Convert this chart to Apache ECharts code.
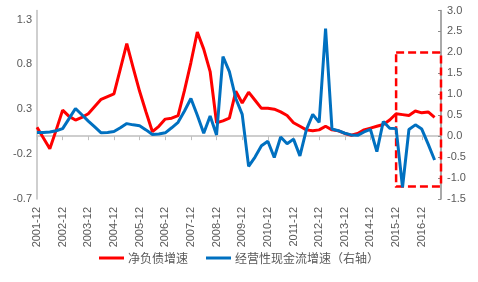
<!DOCTYPE html>
<html>
<head>
<meta charset="utf-8">
<script src="https://cdn.jsdelivr.net/npm/echarts@6/dist/echarts.min.js"></script>
<style>html,body{margin:0;padding:0;background:#fff;}#c{width:478px;height:282px;}</style>
</head>
<body>
<div id="c"></div>
<script>
var categories = ['2001-12',
'2002-03','2002-06','2002-09','2002-12','2003-03','2003-06','2003-09','2003-12',
'2004-03','2004-06','2004-09','2004-12','2005-03','2005-06','2005-09','2005-12',
'2006-03','2006-06','2006-09','2006-12','2007-03','2007-06','2007-09','2007-12',
'2008-03','2008-06','2008-09','2008-12','2009-03','2009-06','2009-09','2009-12',
'2010-03','2010-06','2010-09','2010-12','2011-03','2011-06','2011-09','2011-12',
'2012-03','2012-06','2012-09','2012-12','2013-03','2013-06','2013-09','2013-12',
'2014-03','2014-06','2014-09','2014-12','2015-03','2015-06','2015-09','2015-12',
'2016-03','2016-06','2016-09','2016-12','2017-03','2017-06','2017-09'];

var netDebtGrowth = [0.10,-0.02,-0.14,0.07,0.29,0.22,0.18,0.21,0.25,0.33,0.41,0.44,0.47,
0.75,1.03,0.76,0.50,0.27,0.05,0.11,0.19,0.20,0.23,0.51,0.82,1.16,
0.97,0.72,0.15,0.17,0.20,0.50,0.37,0.49,0.40,0.31,0.31,0.30,0.27,
0.23,0.15,0.11,0.07,0.06,0.07,0.11,0.07,0.06,0.03,0.01,0.03,0.07,
0.09,0.11,0.13,0.18,0.25,0.24,0.23,0.28,0.26,0.27,0.21,null];

var opCashGrowth = [0.09,0.09,0.10,0.13,0.18,0.42,0.66,0.51,0.36,0.22,0.08,0.09,0.11,
0.20,0.30,0.27,0.25,0.15,0.04,0.05,0.08,0.20,0.33,0.60,0.90,0.50,
0.07,0.48,0.03,1.90,1.54,0.90,0.52,-0.72,-0.50,-0.23,-0.12,-0.51,-0.02,
-0.18,-0.07,-0.47,0.15,0.52,0.33,2.57,0.17,0.13,0.07,0.03,0.02,0.10,
0.16,-0.37,0.35,0.19,0.18,-1.22,0.16,0.27,0.17,-0.19,-0.57,null];

var leftTickLabels = ['-0.7','-0.2','0.3','0.8','1.3'];
var seriesNames = ['净负债增速','经营性现金流增速（右轴）'];
var boxRange = {fromCat:'2015-12', toCat:'2017-09', top:2.0, bottom:-1.2};

var chart = echarts.init(document.getElementById('c'), null, {renderer:'canvas'});
var lab = {color:'#595959', fontSize:11, fontFamily:'Liberation Sans, Arial, sans-serif'};
chart.setOption({
  animation:false,
  backgroundColor:'#ffffff',
  grid:{left:37, right:37, top:10.5, bottom:83, containLabel:false},
  legend:{
    bottom:13, left:'center', itemWidth:25, itemHeight:3, itemGap:18,
    icon:'rect',
    textStyle:{color:'#595959', fontSize:12, fontFamily:'Noto Sans CJK SC, sans-serif', padding:[0,0,0,-1]},
    data:seriesNames
  },
  xAxis:[{
    type:'category', data:categories, boundaryGap:false, position:'bottom',
    axisLine:{show:true, onZero:true, lineStyle:{color:'#bfbfbf', width:1.5}},
    axisTick:{show:true, interval:3, length:4, lineStyle:{color:'#bfbfbf'}},
    axisLabel:{show:false}, splitLine:{show:false}
  },{
    type:'category', data:categories, boundaryGap:false, position:'bottom',
    axisLine:{show:false, onZero:false}, axisTick:{show:false},
    axisLabel:Object.assign({show:true, interval:3, rotate:90, margin:8}, lab),
    splitLine:{show:false}
  }],
  yAxis:[{
    type:'value', min:-0.7, max:1.4, interval:0.1, position:'left',
    axisLine:{show:true, lineStyle:{color:'#bfbfbf', width:1.5}},
    axisTick:{show:false}, splitLine:{show:false},
    axisLabel:Object.assign({margin:5, showMaxLabel:true, formatter:function(v){
      var s=(Math.round(v*10)/10).toFixed(1); if(s==='-0.0') s='0.0';
      return leftTickLabels.indexOf(s)>=0 ? s : '';
    }}, lab)
  },{
    type:'value', min:-1.5, max:3.0, interval:0.5, position:'right',
    axisLine:{show:true, lineStyle:{color:'#8c8c8c', width:1.5}},
    axisTick:{show:true, inside:true, length:3, lineStyle:{color:'#8c8c8c'}},
    splitLine:{show:false},
    axisLabel:Object.assign({margin:6, formatter:function(v){return v.toFixed(1);}}, lab)
  }],
  series:[{
    name:seriesNames[0], type:'line', xAxisIndex:0, yAxisIndex:0, data:netDebtGrowth,
    showSymbol:false, symbol:'none', lineStyle:{color:'#ff0000', width:3}, itemStyle:{color:'#ff0000'}, z:2
  },{
    name:seriesNames[1], type:'line', xAxisIndex:0, yAxisIndex:1, data:opCashGrowth,
    showSymbol:false, symbol:'none', lineStyle:{color:'#0070c0', width:3}, itemStyle:{color:'#0070c0'}, z:3,
    markArea:{
      silent:true,
      itemStyle:{color:'rgba(0,0,0,0)', borderColor:'#ff0000', borderWidth:2.5, borderType:[8,4]},
      data:[[{xAxis:boxRange.fromCat, yAxis:boxRange.top},{xAxis:boxRange.toCat, yAxis:boxRange.bottom}]]
    }
  }]
});
</script>
</body>
</html>
